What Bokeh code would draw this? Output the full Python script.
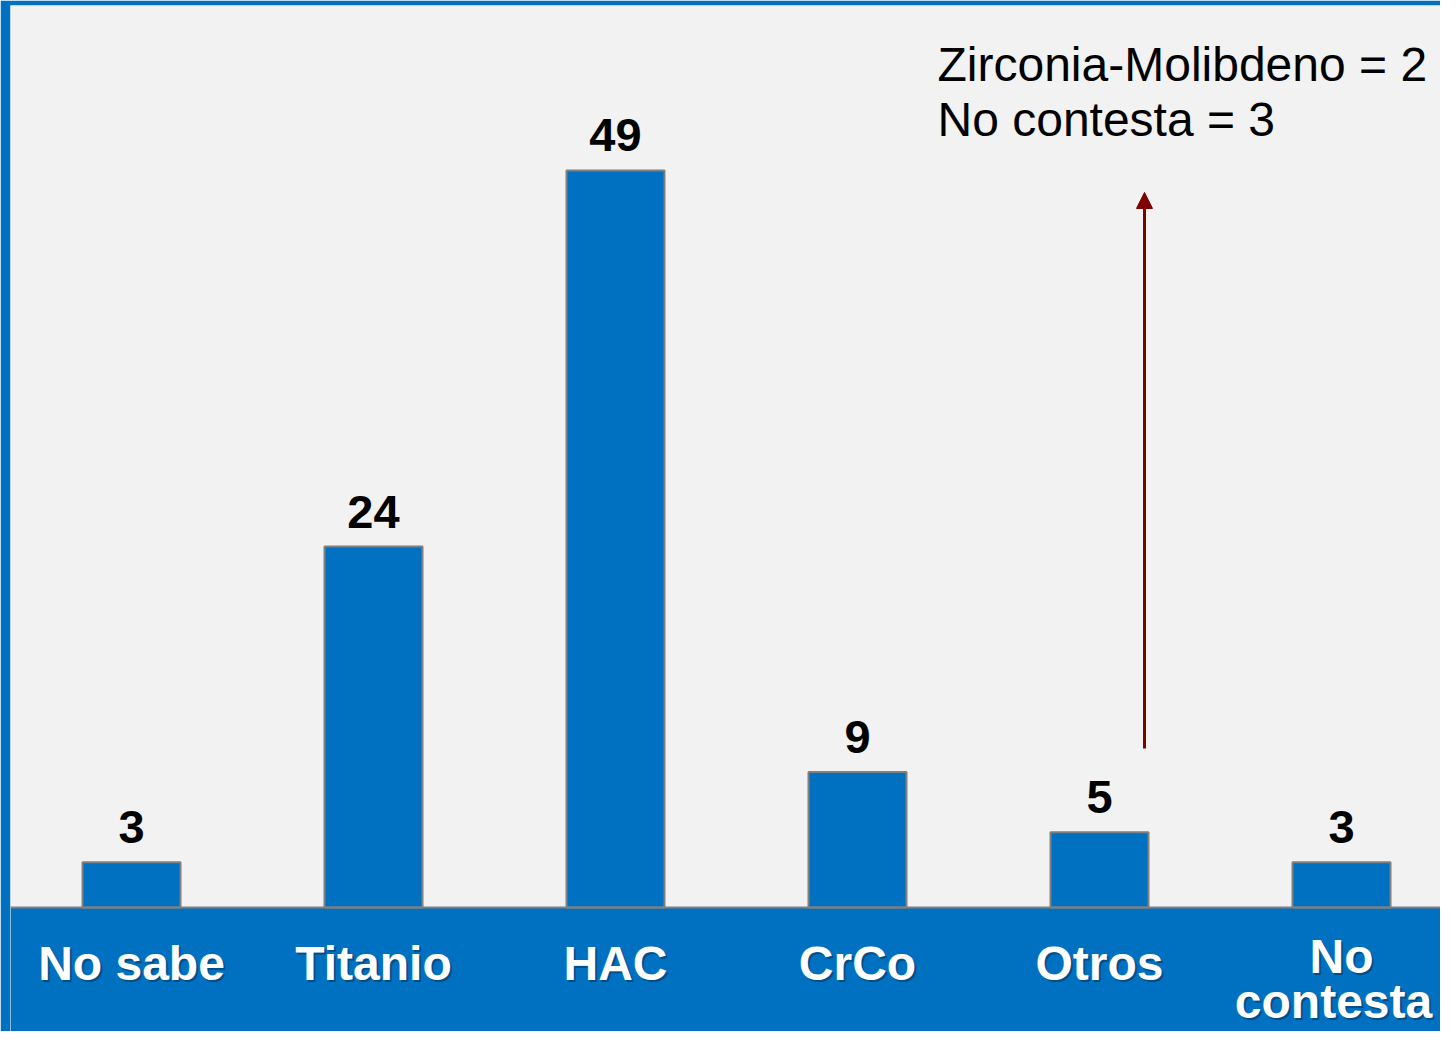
from bokeh.plotting import figure
from bokeh.models import Range1d, BoxAnnotation, Span, Arrow, NormalHead, Label, ColumnDataSource
from bokeh.core.properties import value
from bokeh.embed import file_html
from bokeh.resources import INLINE

# ---- data ----
categories = ["No sabe", "Titanio", "HAC", "CrCo", "Otros", "No\ncontesta"]
counts = [3, 24, 49, 9, 5, 3]
otros_detail = ["Zirconia-Molibdeno = 2", "No contesta = 3"]

BLUE = "#0070C0"
BG = "#F2F2F2"
FONT = "Liberation Sans"

idx = list(range(len(categories)))
src = ColumnDataSource(dict(x=idx, top=counts, lbl=[str(c) for c in counts]))

# split category labels into first / second lines (two-line labels sit a bit higher)
first = [c.split("\n")[0] for c in categories]
first_off = [23 if "\n" in c else 30 for c in categories]
second_x = [i for i, c in enumerate(categories) if "\n" in c]
second = [c.split("\n")[1] for c in categories if "\n" in c]
second_off = [68 for _ in second]
src1 = ColumnDataSource(dict(x=idx, t=first, off=first_off, off2=[o + 2 for o in first_off],
                             xo=[0] * len(first), xo2=[2] * len(first)))
src2 = ColumnDataSource(dict(x=second_x, t=second, off=second_off, off2=[o + 2 for o in second_off],
                             xo=[-8] * len(second), xo2=[-6] * len(second)))

SP = 242  # px per category
p = figure(width=1440, height=1031, output_backend="svg", toolbar_location=None,
           x_range=Range1d(-0.5, -0.5 + 1430 / SP), y_range=Range1d(-8.245, 59.97),
           min_border_left=10, min_border_right=0, min_border_top=5, min_border_bottom=0)
p.axis.visible = False
p.grid.visible = False
p.outline_line_color = None
p.background_fill_color = BG
p.border_fill_color = BLUE

# bottom band
p.add_layout(BoxAnnotation(top=0, fill_color=BLUE, fill_alpha=1, line_color=None, level="underlay"))

p.vbar(x="x", top="top", bottom=0, width=98 / SP, source=src,
       fill_color=BLUE, line_color="#808080", line_width=2)

p.add_layout(Span(location=0, dimension="width", line_color="#808080", line_width=2))

# value labels
p.text(x="x", y="top", text="lbl", source=src, text_align="center", text_baseline="alphabetic",
       y_offset=-35, text_font=value(FONT), text_font_style="bold", text_font_size="47px",
       text_color="black")

# category labels with shadow
for s in (src1, src2):
    p.text(x="x", y=0, text="t", source=s, text_align="center", text_baseline="top",
           x_offset="xo2", y_offset="off2", text_font=value(FONT), text_font_style="bold",
           text_font_size="48px", text_color="#0b2a4a", text_alpha=0.5)
    p.text(x="x", y=0, text="t", source=s, text_align="center", text_baseline="top",
           x_offset="xo", y_offset="off", text_font=value(FONT), text_font_style="bold",
           text_font_size="48px", text_color="white")

# arrow and note
p.add_layout(Arrow(end=NormalHead(size=16, fill_color="#7F0000", line_color="#7F0000"),
                   x_start=4.186, y_start=10.57, x_end=4.186, y_end=47.54,
                   line_color="#7F0000", line_width=3))
for i, t in enumerate(otros_detail):
    p.add_layout(Label(x=3.3306, y=56.05 - i * 3.66, text=t, text_font=FONT,
                       text_font_size="48px", text_color="black", text_baseline="alphabetic"))

open("out.html", "w").write(file_html(p, INLINE))
